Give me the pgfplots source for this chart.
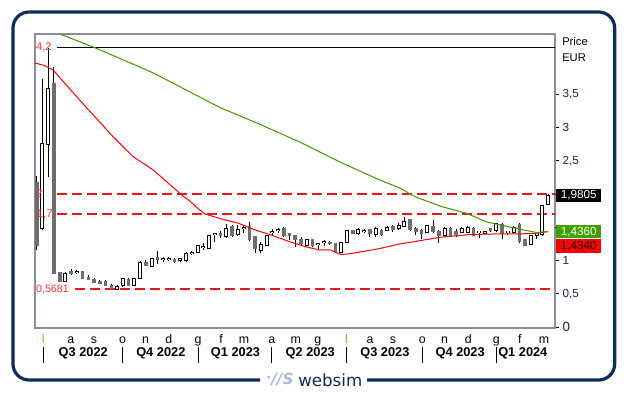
\documentclass[border=0pt]{standalone}
\usepackage{fontspec}
\setmainfont{Liberation Sans}
\newfontfamily\logofont{DejaVu Sans}
\usepackage{pgfplots}
\usepackage{pgfplotstable}
\pgfplotsset{compat=1.18}
\definecolor{navy}{HTML}{0E2C5C}
\definecolor{framegray}{HTML}{8C8C9C}
\definecolor{candlegray}{HTML}{6E6E6E}
\definecolor{mared}{HTML}{FF0000}
\definecolor{magreen}{HTML}{3C9A00}
\definecolor{lvlred}{HTML}{E81818}
\definecolor{lblred}{HTML}{FF3333}
\definecolor{gold}{HTML}{C89600}
\definecolor{boxgreen}{HTML}{3FA000}
\definecolor{logoblue}{HTML}{A9BCD6}
\definecolor{ticktext}{HTML}{1A2550}

% up (hollow) candles: index open high low close
\pgfplotstableread{
i o h l c
1 1.48 3.73 1.46 2.75
2 2.75 4.20 2.25 3.59
5 0.69 0.82 0.68 0.80
7 0.82 0.85 0.79 0.83
14 0.57 0.63 0.5681 0.61
15 0.62 0.74 0.60 0.72
17 0.62 0.73 0.61 0.72
18 0.73 0.99 0.72 0.97
20 0.92 1.03 0.91 1.02
22 1.02 1.05 0.98 1.03
23 1.02 1.05 0.99 1.03
25 1.01 1.04 0.98 1.02
26 1.00 1.13 0.98 1.10
27 1.11 1.15 1.08 1.12
28 1.12 1.23 1.11 1.22
29 1.20 1.27 1.16 1.21
30 1.19 1.38 1.17 1.37
31 1.39 1.42 1.28 1.40
33 1.36 1.55 1.34 1.48
35 1.40 1.53 1.37 1.47
36 1.49 1.53 1.42 1.50
39 1.16 1.28 1.12 1.23
40 1.23 1.38 1.22 1.37
41 1.42 1.47 1.39 1.43
42 1.45 1.49 1.41 1.46
47 1.23 1.33 1.22 1.31
49 1.24 1.26 1.16 1.25
50 1.27 1.31 1.22 1.28
53 1.13 1.28 1.11 1.26
54 1.27 1.46 1.26 1.45
56 1.41 1.49 1.39 1.46
57 1.44 1.47 1.41 1.45
59 1.40 1.50 1.35 1.48
61 1.45 1.52 1.44 1.50
63 1.48 1.56 1.46 1.53
64 1.52 1.65 1.51 1.59
68 1.42 1.53 1.41 1.52
71 1.38 1.51 1.36 1.48
74 1.43 1.51 1.41 1.48
75 1.43 1.52 1.41 1.50
77 1.43 1.44 1.34 1.44
78 1.41 1.45 1.40 1.44
80 1.46 1.57 1.43 1.56
82 1.43 1.44 1.38 1.44
83 1.42 1.52 1.40 1.49
86 1.24 1.38 1.23 1.37
87 1.38 1.43 1.33 1.41
88 1.39 1.84 1.37 1.82
89 1.84 2.00 1.83 1.9805
}\upc

% down (filled) candles
\pgfplotstableread{
i o h l c
0 2.17 2.27 1.16 1.23
3 3.67 3.91 0.79 0.81
4 0.82 0.83 0.68 0.69
6 0.84 0.87 0.78 0.81
8 0.83 0.84 0.72 0.73
9 0.75 0.78 0.70 0.72
10 0.71 0.73 0.66 0.67
11 0.69 0.71 0.64 0.66
12 0.68 0.71 0.61 0.62
13 0.63 0.64 0.57 0.58
16 0.72 0.73 0.61 0.62
19 0.97 1.00 0.91 0.92
21 1.04 1.14 0.95 1.01
24 1.02 1.04 0.96 0.99
32 1.40 1.44 1.34 1.37
34 1.51 1.53 1.36 1.38
37 1.51 1.58 1.30 1.31
38 1.36 1.37 1.12 1.18
43 1.49 1.50 1.36 1.38
44 1.41 1.41 1.31 1.37
45 1.37 1.38 1.21 1.31
46 1.32 1.35 1.24 1.26
48 1.31 1.33 1.21 1.23
51 1.27 1.30 1.24 1.25
52 1.25 1.26 1.12 1.13
55 1.45 1.45 1.40 1.41
58 1.47 1.48 1.36 1.40
60 1.46 1.48 1.37 1.39
62 1.51 1.53 1.43 1.47
65 1.62 1.63 1.45 1.46
66 1.49 1.51 1.39 1.43
67 1.45 1.47 1.33 1.41
69 1.52 1.61 1.41 1.43
70 1.43 1.46 1.26 1.38
72 1.48 1.50 1.37 1.38
73 1.44 1.48 1.35 1.39
76 1.49 1.50 1.37 1.38
79 1.48 1.49 1.43 1.45
81 1.54 1.56 1.33 1.41
84 1.54 1.57 1.27 1.28
85 1.31 1.32 1.22 1.23
}\downc

% short moving average (red)
\pgfplotstableread{
x v
-0.3 3.97
1.4 3.93
2.9 3.86
7.5 3.41
13.3 2.86
16.8 2.56
20.3 2.36
22.0 2.23
25.3 1.98
26.4 1.91
28.4 1.76
29.3 1.70
31.9 1.63
35.1 1.56
38.0 1.46
40.9 1.38
44.1 1.28
46.7 1.21
49.1 1.16
51.1 1.16
52.9 1.09
54.3 1.10
56.5 1.13
59.7 1.18
63.2 1.25
65.5 1.28
70.2 1.35
75.4 1.39
80.0 1.40
84.1 1.40
87.0 1.41
89.0 1.434
}\mashort

% long moving average (green)
\pgfplotstableread{
x v
4.2 4.40
10.4 4.19
20.3 3.82
31.9 3.30
38.8 3.05
45.8 2.78
52.8 2.48
59.7 2.21
63.2 2.09
65.8 1.96
70.5 1.81
74.8 1.71
78.3 1.58
82.0 1.51
84.7 1.46
87.0 1.42
89.0 1.436
}\malong

\pgfplotsset{
  candle/.style 2 args={forget plot, draw=none, no markers,
    error bars/.cd, y dir=both, y explicit, error mark=none,
    error bar style={line width=#1, draw=#2, solid}},
}

\begin{document}
\begin{tikzpicture}[x=1pt,y=1pt]
\fill[white] (0,0) rectangle (471.75,296.25);
\useasboundingbox (0,0) rectangle (471.75,296.25);
% outer frame
\draw[navy, line width=2.4pt, rounded corners=12pt]
  (195,11.25) -- (9.75,11.25) -- (9.75,287.25) -- (461,287.25) -- (461,11.25) -- (275.25,11.25);
\begin{axis}[
  at={(26.25pt,50.25pt)}, anchor=south west,
  scale only axis, width=390pt, height=220.5pt,
  xmin=-0.3, xmax=90.2, ymin=-0.015, ymax=4.406,
  clip=false,
  axis line style={framegray, line width=0.8pt},
  tick align=outside,
  ytick pos=right, yticklabel pos=right,
  ytick={0,0.5,1,2.5,3,3.5},
  yticklabels={{\fontsize{10}{10}\selectfont 0},{0,5},1,{2,5},3,{3,5}},
  extra y ticks={1.5,2}, extra y tick labels={},
  extra y tick style={ytick style={black, line width=0.6pt}},
  ytick style={black, line width=0.6pt},
  major tick length=3pt,
  yticklabel style={font=\fontsize{8.8}{9}\selectfont, text=ticktext, inner sep=0pt, xshift=2.5pt},
  xtick={1.15,5.92,9.97,14.96,18.96,23.0,28.1,32.1,36.1,40.9,45.1,48.9,53.9,58.0,62.0,67.1,71.0,75.1,80.0,84.1,88.3},
  xticklabels={\textcolor{gold}{l},a,s,o,n,d,g,f,m,a,m,g,\textcolor{gold}{l},a,s,o,n,d,g,f,m},
  xtick style={draw=none},
  xticklabel style={font=\fontsize{9.3}{10}\selectfont, anchor=north, inner sep=0pt, text height=6.8pt, text depth=0pt, yshift=-1.5pt},
]
% level lines
\addplot[black, line width=0.9pt, forget plot] coordinates {(3.53,4.2) (90.2,4.2)};
\addplot[lvlred, line width=1.1pt, dash pattern=on 7.5pt off 3.75pt, forget plot] coordinates {(3.53,2) (90.2,2)};
\addplot[lvlred, line width=1.1pt, dash pattern=on 7.5pt off 3.75pt, forget plot] coordinates {(3.53,1.7) (90.2,1.7)};
\addplot[lvlred, line width=1.1pt, dash pattern=on 7.5pt off 3.75pt, forget plot] coordinates {(6.66,0.5681) (90.2,0.5681)};
% wicks
\addplot[candle={0.75pt}{black}]
  table[x=i, y expr={(\thisrow{h}+\thisrow{l})/2}, y error expr={(\thisrow{h}-\thisrow{l})/2}] {\upc};
\addplot[candle={0.75pt}{black}]
  table[x=i, y expr={(\thisrow{h}+\thisrow{l})/2}, y error expr={(\thisrow{h}-\thisrow{l})/2}] {\downc};
% down bodies
\addplot[candle={2.7pt}{candlegray}]
  table[x=i, y expr={(\thisrow{o}+\thisrow{c})/2}, y error expr={(\thisrow{o}-\thisrow{c})/2+0.006}] {\downc};
% up bodies: outline then white interior
\addplot[candle={3pt}{black}]
  table[x=i, y expr={(\thisrow{o}+\thisrow{c})/2}, y error expr={(\thisrow{c}-\thisrow{o})/2+0.011}] {\upc};
\addplot[candle={1.5pt}{white}]
  table[x=i, y expr={(\thisrow{o}+\thisrow{c})/2}, y error expr={max((\thisrow{c}-\thisrow{o})/2-0.004,0)}] {\upc};
% moving averages
\addplot[mared, line width=0.75pt, forget plot] table[x=x, y=v] {\mashort};
\addplot[magreen, line width=0.75pt, forget plot] table[x=x, y=v] {\malong};
% quarter labels
\foreach \qx/\ql in {8.1/Q3 2022, 21.6/Q4 2022, 34.6/Q1 2023, 47.6/Q2 2023, 60.6/Q3 2023, 73.7/Q4 2023, 84.6/Q1 2024}{
  \edef\temp{\noexpand\node[font=\noexpand\bfseries\noexpand\fontsize{9.6}{10}\noexpand\selectfont, yshift=-19pt] at (axis cs:\qx,-0.015) {\ql};}
  \temp
}
\foreach \sx in {1.15,14.96,28.1,40.9,53.9,67.1,80.0}{
  \edef\temp{\noexpand\draw[black, line width=1pt] (axis cs:\sx,-0.015) ++(0pt,-14.25pt) -- ++(0pt,-11.75pt);}
  \temp
}
\coordinate (l42) at (axis cs:-0.15,4.2);
\coordinate (l2) at (axis cs:-0.15,2);
\coordinate (l17) at (axis cs:0,1.7);
\coordinate (l05) at (axis cs:-0.15,0.5681);
\coordinate (vb) at (axis cs:90.2,1.9805);
\coordinate (vg) at (axis cs:90.2,1.433);
\end{axis}
% level labels (drawn on top of candles)
\node[anchor=west, inner sep=0pt, text=lblred, font=\fontsize{8.4}{9}\selectfont] at (l42) {4,2};
\node[anchor=west, inner sep=0pt, text=lblred, font=\fontsize{8.4}{9}\selectfont] at (l2) {2};
\node[anchor=west, inner sep=0pt, text=lblred, font=\fontsize{8.4}{9}\selectfont] at (l17) {1,7};
\node[anchor=west, inner sep=0pt, text=lblred, font=\fontsize{8}{9}\selectfont] at (l05) {0,5681};
% value boxes
\node[anchor=west, fill=black, text=white, inner sep=0pt, minimum width=33.75pt, minimum height=9.75pt, font=\fontsize{8.8}{9}\selectfont] at ([xshift=0.75pt]vb) {1,9805};
\node[anchor=west, fill=boxgreen, text=white, inner sep=0pt, minimum width=33.75pt, minimum height=10pt, font=\fontsize{8.8}{9}\selectfont] (gb) at ([xshift=0.75pt]vg) {1,4360};
\node[anchor=north west, fill=mared, text=black, inner sep=0pt, minimum width=33.75pt, minimum height=10.8pt, font=\fontsize{8.8}{9}\selectfont] at (gb.south west) {1,4340};
% unit labels
\node[anchor=west, inner sep=0pt, font=\fontsize{8.4}{9}\selectfont] at (421.5,264.75) {Price};
\node[anchor=west, inner sep=0pt, font=\fontsize{8.4}{9}\selectfont] at (421.5,252.75) {EUR};
% logo
\node[anchor=west, inner sep=0pt, text=logoblue, font=\logofont\bfseries\itshape\fontsize{11.5}{12}\selectfont] at (199.5,11.5) {\raisebox{3pt}{\fontsize{6}{6}\selectfont•}//S};
\node[anchor=west, inner sep=0pt, text=navy, font=\logofont\fontsize{12.5}{13}\selectfont] at (223.5,11.25) {websim};
\end{tikzpicture}
\end{document}
